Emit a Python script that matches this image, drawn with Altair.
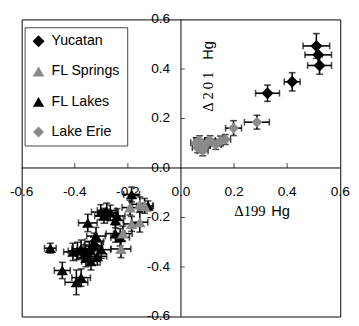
import altair as alt
import pandas as pd

# ---------------- data ----------------
SERIES = ["Yucatan", "FL Springs", "FL Lakes", "Lake Erie"]
COLORS = ["#000000", "#8a8a8a", "#000000", "#8a8a8a"]
SHAPES = ["diamond", "triangle-up", "triangle-up", "diamond"]
SIZES = [150, 125, 120, 130]

yuc_x = [0.326, 0.419, 0.510, 0.517, 0.522]
yuc_y = [0.302, 0.348, 0.493, 0.457, 0.414]
yuc_xe = [0.045, 0.030, 0.050, 0.050, 0.045]
yuc_ye = [0.033, 0.037, 0.050, 0.040, 0.035]

erie_x = [0.286, 0.198, 0.167, 0.149, 0.131, 0.110, 0.100, 0.075, 0.063, 0.082, 0.057, 0.090, 0.070]
erie_y = [0.185, 0.161, 0.115, 0.109, 0.095, 0.110, 0.102, 0.095, 0.082, 0.069, 0.102, 0.090, 0.110]
erie_xe = [0.047, 0.030, 0.020, 0.020, 0.020, 0.020, 0.020, 0.020, 0.020, 0.020, 0.020, 0.020, 0.020]
erie_ye = [0.028, 0.030, 0.020, 0.020, 0.020, 0.020, 0.020, 0.020, 0.020, 0.020, 0.020, 0.020, 0.020]

spr_x = [-0.219, -0.226, -0.186, -0.155, -0.192, -0.155, -0.137]
spr_y = [-0.265, -0.327, -0.226, -0.219, -0.160, -0.147, -0.153]
spr_xe = [0.035, 0.037, 0.030, 0.030, 0.030, 0.030, 0.030]
spr_ye = [0.030, 0.035, 0.030, 0.040, 0.030, 0.030, 0.030]

lak_x = [-0.492, -0.447, -0.394, -0.376, -0.351, -0.302, -0.280, -0.266, -0.247, -0.290,
         -0.247, -0.327, -0.407, -0.376, -0.358, -0.339, -0.315, -0.345, -0.330, -0.300,
         -0.186, -0.124, -0.229, -0.241, -0.390, -0.360, -0.320]
lak_y = [-0.324, -0.414, -0.462, -0.443, -0.222, -0.178, -0.172, -0.180, -0.212, -0.193,
         -0.265, -0.298, -0.339, -0.326, -0.364, -0.377, -0.357, -0.331, -0.315, -0.330,
         -0.107, -0.153, -0.280, -0.194, -0.335, -0.345, -0.275]
lak_xe = [0.022, 0.030, 0.043, 0.035, 0.035, 0.035, 0.035, 0.030, 0.030, 0.035,
          0.035, 0.035, 0.035, 0.035, 0.035, 0.035, 0.035, 0.035, 0.035, 0.035,
          0.030, 0.020, 0.035, 0.030, 0.035, 0.035, 0.035]
lak_ye = [0.020, 0.033, 0.050, 0.035, 0.035, 0.030, 0.030, 0.030, 0.030, 0.030,
          0.035, 0.035, 0.035, 0.035, 0.035, 0.035, 0.035, 0.035, 0.035, 0.035,
          0.030, 0.020, 0.035, 0.030, 0.035, 0.035, 0.035]

tick_vals = [-0.4, -0.2, 0.2, 0.4]
label_vals = [-0.6, -0.4, -0.2, 0.0, 0.2, 0.4, 0.6]
label_text = ["-0.6", "-0.4", "-0.2", "0.0", "0.2", "0.4", "0.6"]

# axis title anchors (data coordinates)
xtitle_x = [0.2006, 0.340]
xtitle_y = [-0.195, -0.195]
xtitle_txt = ["Δ199", "Hg"]
ytitle_x = [0.120, 0.120]
ytitle_y = [0.227, 0.437]
ytitle_txt = ["Δ\u20092\u20090\u20091", "Hg"]

# ---------------- build table ----------------
rows = []
order = [("FL Lakes", lak_x, lak_y, lak_xe, lak_ye),
         ("FL Springs", spr_x, spr_y, spr_xe, spr_ye),
         ("Lake Erie", erie_x, erie_y, erie_xe, erie_ye),
         ("Yucatan", yuc_x, yuc_y, yuc_xe, yuc_ye)]
for name, xs_, ys_, xes, yes in order:
    for x, y, xe, ye in zip(xs_, ys_, xes, yes):
        rows.append(dict(series=name, x=x, y=y, xlo=x - xe, xhi=x + xe,
                         ylo=y - ye, yhi=y + ye))
df = pd.DataFrame(rows)

xs = alt.Scale(domain=[-0.6, 0.6], nice=False, zero=False)
ys = alt.Scale(domain=[-0.6, 0.6], nice=False, zero=False)


def X(f):
    return alt.X(f, type="quantitative", scale=xs, axis=None)


def Y(f):
    return alt.Y(f, type="quantitative", scale=ys, axis=None)


base = alt.Chart(df)

hbars = base.mark_rule(color="black", strokeWidth=1.6).encode(x=X("xlo"), x2="xhi", y=Y("y"))
vbars = base.mark_rule(color="black", strokeWidth=1.6).encode(x=X("x"), y=Y("ylo"), y2="yhi")
cap1 = base.mark_tick(orient="vertical", size=7, thickness=1.6, color="black").encode(x=X("xlo"), y=Y("y"))
cap2 = base.mark_tick(orient="vertical", size=7, thickness=1.6, color="black").encode(x=X("xhi"), y=Y("y"))
cap3 = base.mark_tick(orient="horizontal", size=7, thickness=1.6, color="black").encode(x=X("x"), y=Y("ylo"))
cap4 = base.mark_tick(orient="horizontal", size=7, thickness=1.6, color="black").encode(x=X("x"), y=Y("yhi"))

leg = alt.Legend(orient="none", legendX=3, legendY=8, title=None,
                 labelFont="Liberation Sans", labelFontSize=14.5, labelColor="black",
                 symbolSize=70, symbolStrokeWidth=0, padding=7, rowPadding=16,
                 labelOffset=6, strokeColor="#444444", fillColor="white")

points = base.mark_point(filled=True, opacity=1).encode(
    x=X("x"), y=Y("y"),
    color=alt.Color("series:N", scale=alt.Scale(domain=SERIES, range=COLORS), legend=leg),
    shape=alt.Shape("series:N", scale=alt.Scale(domain=SERIES, range=SHAPES), legend=leg),
    size=alt.Size("series:N", scale=alt.Scale(domain=SERIES, range=SIZES), legend=None),
)

zero_df = pd.DataFrame({"v": [0.0]})
hline = alt.Chart(zero_df).mark_rule(color="black", strokeWidth=1).encode(y=Y("v"))
vline = alt.Chart(zero_df).mark_rule(color="black", strokeWidth=1).encode(x=X("v"))

tdf = pd.DataFrame({"t": tick_vals, "z": [0.0] * len(tick_vals)})
xticks = alt.Chart(tdf).mark_tick(orient="vertical", size=5, thickness=1, color="black", yOffset=-2.5).encode(
    x=X("t"), y=Y("z"))
yticks = alt.Chart(tdf).mark_tick(orient="horizontal", size=4, thickness=1, color="black", xOffset=2).encode(
    y=Y("t"), x=X("z"))

ldf = pd.DataFrame({"v": label_vals, "lab": label_text, "z": [0.0] * len(label_vals)})
xlabels = alt.Chart(ldf).mark_text(font="Liberation Sans", fontSize=14, color="black",
                                   align="center", baseline="middle", dy=25).encode(
    x=X("v"), y=Y("z"), text="lab:N")
ylabels = alt.Chart(ldf).mark_text(font="Liberation Sans", fontSize=14, color="black",
                                   align="right", baseline="middle", dx=-11).encode(
    y=Y("v"), x=X("z"), text="lab:N")

xt_df = pd.DataFrame({"x": xtitle_x, "y": xtitle_y, "t": xtitle_txt})
yt_df = pd.DataFrame({"x": ytitle_x, "y": ytitle_y, "t": ytitle_txt})

xt1 = alt.Chart(xt_df.iloc[[0]]).mark_text(font="Liberation Serif", fontSize=15, color="black",
                                           align="left", baseline="alphabetic").encode(
    x=X("x"), y=Y("y"), text="t:N")
xt2 = alt.Chart(xt_df.iloc[[1]]).mark_text(font="Liberation Sans", fontSize=15, color="black",
                                           align="left", baseline="alphabetic").encode(
    x=X("x"), y=Y("y"), text="t:N")
yt1 = alt.Chart(yt_df.iloc[[0]]).mark_text(font="Liberation Serif", fontSize=15, color="black",
                                           align="left", baseline="alphabetic", angle=270).encode(
    x=X("x"), y=Y("y"), text="t:N")
yt2 = alt.Chart(yt_df.iloc[[1]]).mark_text(font="Liberation Sans", fontSize=15, color="black",
                                           align="left", baseline="alphabetic", angle=270).encode(
    x=X("x"), y=Y("y"), text="t:N")

chart = alt.layer(
    hline, vline, xticks, yticks, xlabels, ylabels, xt1, xt2, yt1, yt2,
    hbars, vbars, cap1, cap2, cap3, cap4, points,
).properties(
    width=326, height=304,
    autosize=alt.AutoSizeParams(type="none"),
    padding={"left": 14, "top": 8, "right": 11, "bottom": 6},
    background="white",
).configure_view(stroke="black", strokeWidth=1)

chart.save("out.html", embed_options={"renderer": "svg", "actions": False})
